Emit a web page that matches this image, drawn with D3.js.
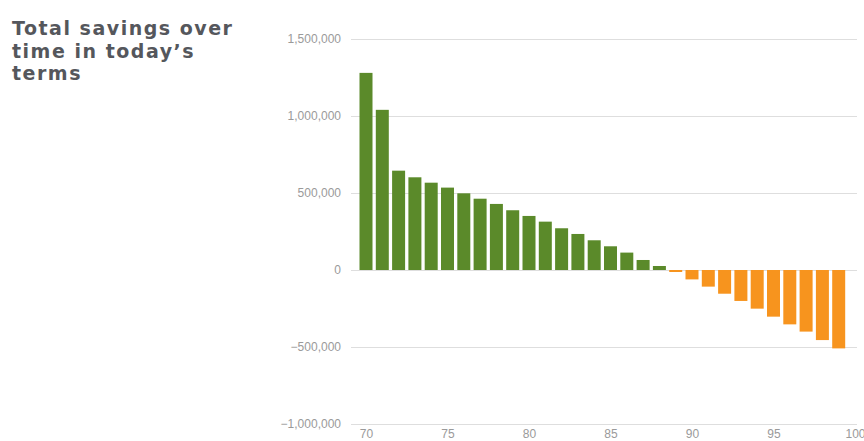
<!DOCTYPE html>
<html>
<head>
<meta charset="utf-8">
<script src="https://cdn.jsdelivr.net/npm/d3@7"></script>
<style>
  html, body { margin: 0; padding: 0; background: #fff; }
  svg { display: block; }
</style>
</head>
<body>
<svg id="chart" width="864" height="441"></svg>
<script>
const titleLines = ["Total savings over", "time in today\u2019s", "terms"];
const ages = [70,71,72,73,74,75,76,77,78,79,80,81,82,83,84,85,86,87,88,89,90,91,92,93,94,95,96,97,98,99];
const savings = [1280000,1040000,645000,602000,567000,535000,498000,463000,429000,388000,
                 351000,314000,271000,234000,193000,154000,113000,65000,26000,-13000,
                 -61000,-108000,-154000,-201000,-251000,-303000,-353000,-400000,-455000,-509000];
const yTicks = [-1000000,-500000,0,500000,1000000,1500000];
const xTicks = [70,75,80,85,90,95,100];

const svg = d3.select("#chart");
const x = d3.scaleLinear().domain([70,100]).range([366,855]);
const y = d3.scaleLinear().domain([-1000000,1500000]).range([424,39]);
const fmt = d3.format(",");

// title
const title = svg.append("text")
  .attr("x", 12)
  .attr("font-family", "'DejaVu Sans', sans-serif")
  .attr("font-weight", "bold")
  .attr("font-size", 19)
  .attr("fill", "#55575c");
title.selectAll("tspan").data(titleLines).join("tspan")
  .attr("x", 12)
  .attr("y", (d,i) => 35 + i*22.5)
  .text(d => d);
const first = title.select("tspan");
const w = first.node().getComputedTextLength();
const n = titleLines[0].length;
title.attr("letter-spacing", ((220 - w) / (n - 1)).toFixed(2));

// y axis gridlines
const yAxis = d3.axisLeft(y).tickValues(yTicks).tickFormat(fmt).tickSize(-(857-351)).tickPadding(10);
const gy = svg.append("g").attr("transform", "translate(351,0)").call(yAxis);
gy.select(".domain").remove();
gy.selectAll(".tick line").attr("stroke", "#dedede").attr("stroke-width", 1);
gy.selectAll(".tick text")
  .attr("fill", "#9a9a9a")
  .attr("font-family", "'Liberation Sans', Arial, sans-serif")
  .attr("font-size", 12);

// bars
svg.append("g").selectAll("rect").data(ages.map((a,i)=>({a, v: savings[i]}))).join("rect")
  .attr("x", d => x(d.a) - 6.5)
  .attr("width", 13)
  .attr("y", d => y(Math.max(0, d.v)))
  .attr("height", d => Math.abs(y(d.v) - y(0)))
  .attr("fill", d => d.v >= 0 ? "#5b8a2a" : "#f7941e");

// x axis labels
const xAxis = d3.axisBottom(x).tickValues(xTicks).tickSize(0).tickPadding(0);
const gx = svg.append("g").attr("transform", "translate(0,429)").call(xAxis);
gx.select(".domain").remove();
gx.selectAll(".tick text")
  .attr("fill", "#9a9a9a")
  .attr("font-family", "'Liberation Sans', Arial, sans-serif")
  .attr("font-size", 12)
  .attr("dy", "0.71em");
</script>
</body>
</html>
